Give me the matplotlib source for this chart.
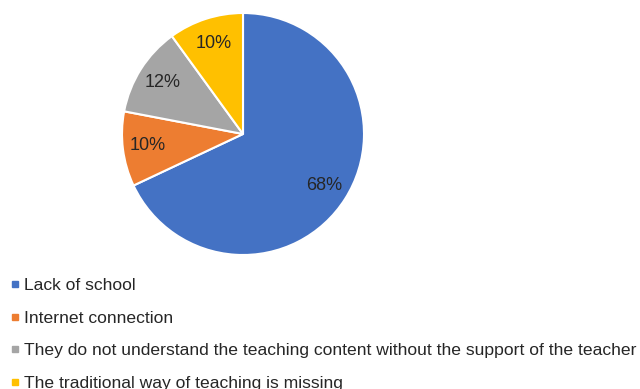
import matplotlib.pyplot as plt
from matplotlib.lines import Line2D

categories = [
    "Lack of school",
    "Internet connection",
    "They do not understand the teaching content without the support of the teacher",
    "The traditional way of teaching is missing",
]
shares = [68, 10, 12, 10]
colors = ["#4472C4", "#ED7D31", "#A5A5A5", "#FFC000"]

W, H = 640, 389
plt.rcParams["font.family"] = ["Liberation Sans", "DejaVu Sans"]
fig = plt.figure(figsize=(W / 100, H / 100), dpi=100)

# pie centred at (243, 134) px with radius 121 px
cx, cy, r = 243, 134, 121
ax = fig.add_axes([(cx - r) / W, (H - cy - r) / H, 2 * r / W, 2 * r / H])
wedges, _, autotexts = ax.pie(
    shares,
    colors=colors,
    startangle=90,
    counterclock=False,
    autopct="%d%%",
    pctdistance=0.79,
    wedgeprops={"edgecolor": "white", "linewidth": 1.5},
    textprops={"fontsize": 13, "color": "#262626"},
)
ax.set_xlim(-1, 1)
ax.set_ylim(-1, 1)
ax.set_aspect("equal")

handles = [
    Line2D([], [], marker="s", linestyle="none", markersize=5,
           markerfacecolor=c, markeredgecolor=c)
    for c in colors
]
fig.legend(
    handles,
    categories,
    loc="upper left",
    bbox_to_anchor=(2 / W, 1 - 269 / H),
    frameon=False,
    fontsize=12.6,
    handlelength=0.5,
    handletextpad=0.25,
    labelspacing=1.0,
    borderpad=0,
    labelcolor="#262626",
)

fig.savefig("out.png", dpi=100)
